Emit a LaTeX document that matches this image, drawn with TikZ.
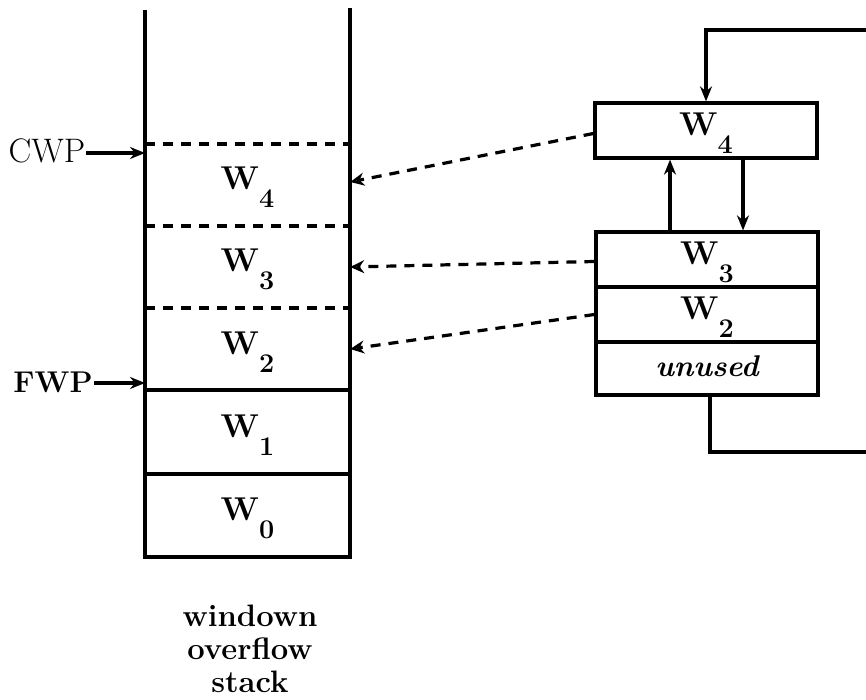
\documentclass[tikz,border=0pt]{standalone}
\usetikzlibrary{arrows.meta}
% register label: bold W with a dropped bold digit
\newcommand\wlab[1]{W\raisebox{-18pt}{\fontsize{27}{27}\selectfont\bfseries #1}}
\begin{document}
\begin{tikzpicture}[x=1pt,y=-1pt,
  thickline/.style={line width=3.2pt},
  dashline/.style={line width=3.2pt, dash pattern=on 10pt off 8pt},
  lbl/.style={font=\fontsize{33}{35}\selectfont\bfseries, text height=28pt, text depth=18pt},
  cellnode/.style={lbl, minimum width=205pt, minimum height=82pt, inner sep=0pt},
  regbox/.style={lbl, draw, line width=3.2pt, minimum width=222pt, minimum height=55pt, inner sep=0pt},
  solidtip/.style={-{Stealth[length=15pt,width=12pt]}},
  hollowtip/.style={-{Stealth[open,length=14pt,width=13pt,line width=2.4pt]}}
]
\useasboundingbox (0,0) rectangle (866,700);

% window overflow stack: outline and separators
\draw[thickline] (145,10) -- (145,557) -- (350,557) -- (350,8);
\draw[thickline] (145,390) -- (350,390);
\draw[thickline] (145,474) -- (350,474);
\draw[dashline] (145,144) -- (350,144);
\draw[dashline] (145,226) -- (350,226);
\draw[dashline] (145,308) -- (350,308);

% stack cells
\node[cellnode] (s4) at (247.5,185) {\wlab{4}};
\node[cellnode] (s3) at (247.5,267) {\wlab{3}};
\node[cellnode] (s2) at (247.5,349) {\wlab{2}};
\node[cellnode] (s1) at (247.5,432) {\wlab{1}};
\node[cellnode] (s0) at (247.5,515.5) {\wlab{0}};

% pointers into the stack
\node[font=\fontsize{34}{36}\selectfont, inner sep=1pt] (cwp) at (47,151) {CWP};
\coordinate (cwpin) at (145,153);
\draw[thickline, solidtip] (cwp.east |- cwpin) -- (cwpin);
\node[font=\fontsize{30}{32}\selectfont\bfseries, inner sep=1pt] (fwp) at (53,382) {FWP};
\coordinate (fwpin) at (145,383);
\draw[thickline, solidtip] (fwp.east |- fwpin) -- (fwpin);

% caption
\node[font=\fontsize{31}{33}\selectfont\bfseries, align=center] (cap) at (250,649)
  {windown\\overflow\\stack};

% register windows on the right
\node[regbox] (r4) at (706,130.5) {\wlab{4}};
\node[regbox] (r3) at (707,259.5) {\wlab{3}};
\node[regbox] (r2) at (707,314.5) {\wlab{2}};
\node[regbox, minimum height=53pt, text height=22pt, text depth=6pt,
      font=\fontsize{30}{32}\selectfont\bfseries\itshape] (ru) at (707,368.5) {unused};

% transfers between W4 and W3
\draw[thickline, solidtip] ([xshift=-37pt]r3.north) -- ([xshift=-36pt]r4.south);
\draw[thickline, solidtip] ([xshift=37pt]r4.south) -- ([xshift=36pt]r3.north);

% wrap-around connections at the right edge
\coordinate (inR) at (866,30);
\coordinate (outR) at (866,452);
\draw[thickline, solidtip] (inR) -| (r4.north);
\draw[thickline] ([xshift=3pt]ru.south) |- (outR);

% saved windows map onto stack slots
\draw[dashline, hollowtip] ([yshift=-3pt]r4.west) -- ([yshift=3pt]s4.east);
\draw[dashline, hollowtip] ([yshift=-2pt]r3.west) -- (s3.east);
\draw[dashline, hollowtip] (r2.west) -- (s2.east);
\end{tikzpicture}
\end{document}
